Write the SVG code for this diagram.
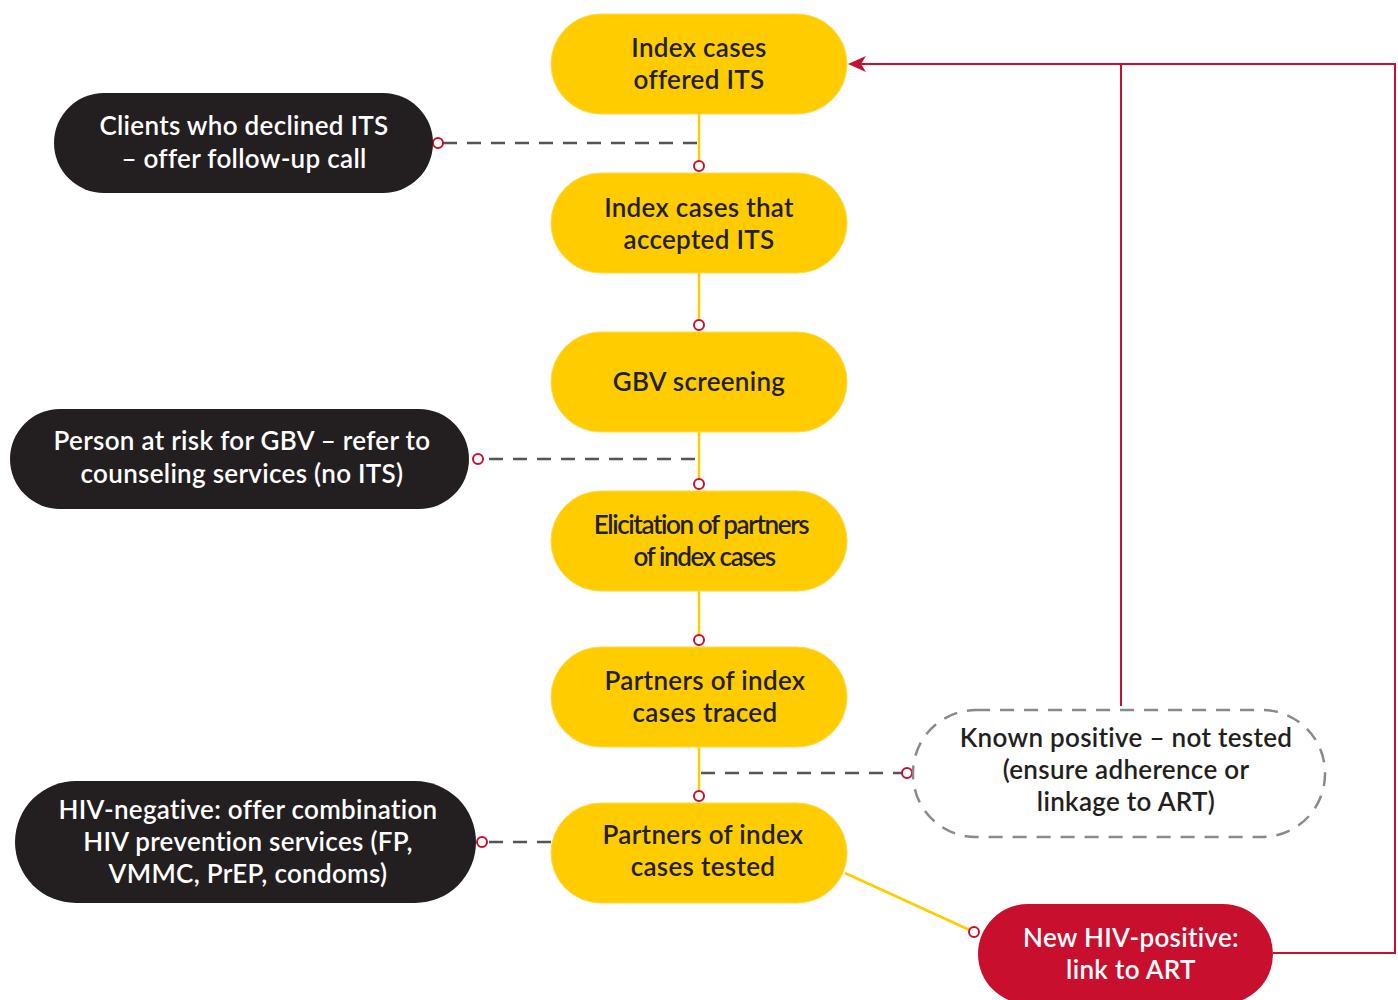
<svg xmlns="http://www.w3.org/2000/svg" width="1398" height="1000" viewBox="0 0 1398 1000">
<style>
.y{fill:#FFCC00;stroke:#FFD84D;stroke-width:1}
.k{fill:#231F20}
.r{fill:#C8102E}
.d{fill:#fff;stroke:#8a8a8a;stroke-width:2.5;stroke-dasharray:14 10}
text{font-family:Lato,"Open Sans","Liberation Sans",sans-serif;font-size:26px;font-weight:600;text-anchor:middle;letter-spacing:0.3px}
.ty{fill:#231F20}
.tw{fill:#fff}
.tight{letter-spacing:-1.4px}
.yl{stroke:#FFCC00;stroke-width:2.5;fill:none}
.dl{stroke:#555;stroke-width:2.5;stroke-dasharray:14 10;fill:none}
.rl{stroke:#C8102E;stroke-width:2;fill:none}
.c{fill:#fff;stroke:#C8102E;stroke-width:2}
</style>
<g id="connectors">
<line class="yl" x1="699" y1="114" x2="699" y2="166"/>
<line class="yl" x1="699" y1="273" x2="699" y2="325"/>
<line class="yl" x1="699" y1="432" x2="699" y2="484"/>
<line class="yl" x1="699" y1="591" x2="699" y2="640"/>
<line class="yl" x1="699" y1="747" x2="699" y2="796"/>
<line class="yl" x1="845" y1="873" x2="974" y2="932"/>
<line class="dl" x1="697" y1="143" x2="443" y2="143"/>
<line class="dl" x1="695" y1="459" x2="483" y2="459"/>
<line class="dl" x1="701" y1="773" x2="902" y2="773"/>
<line class="dl" x1="551" y1="842" x2="487" y2="842"/>
<path class="rl" d="M1273,953 H1395 V64 H858"/>
<path d="M848,64 L866,56 L861,64 L866,72 Z" fill="#C8102E"/>
<line class="rl" x1="1121" y1="64" x2="1121" y2="706"/>
<circle class="c" cx="699" cy="166" r="5"/>
<circle class="c" cx="699" cy="325" r="5"/>
<circle class="c" cx="699" cy="484" r="5"/>
<circle class="c" cx="699" cy="640" r="5"/>
<circle class="c" cx="699" cy="796" r="5"/>
<circle class="c" cx="438" cy="143" r="5"/>
<circle class="c" cx="478" cy="459" r="5"/>
<circle class="c" cx="907" cy="773" r="5"/>
<circle class="c" cx="482" cy="842" r="5"/>
<circle class="c" cx="974" cy="932" r="5"/>
</g>
<g id="n1"><rect class="y" x="551" y="14" width="296" height="100" rx="50"/>
<text class="ty" x="699" y="57">Index cases</text><text class="ty" x="699" y="89">offered ITS</text></g>
<g id="n2"><rect class="y" x="551" y="173" width="296" height="100" rx="50"/>
<text class="ty" x="699" y="217">Index cases that</text><text class="ty" x="699" y="249">accepted ITS</text></g>
<g id="n3"><rect class="y" x="551" y="332" width="296" height="100" rx="50"/>
<text class="ty" x="699" y="391">GBV screening</text></g>
<g id="n4"><rect class="y" x="551" y="491" width="296" height="100" rx="50"/>
<text class="ty tight" x="701" y="534">Elicitation of partners</text><text class="ty tight" x="704" y="566">of index cases</text></g>
<g id="n5"><rect class="y" x="551" y="647" width="296" height="100" rx="50"/>
<text class="ty" x="705" y="690">Partners of index</text><text class="ty" x="705" y="722">cases traced</text></g>
<g id="n6"><rect class="y" x="551" y="803" width="296" height="100" rx="50"/>
<text class="ty" x="703" y="844">Partners of index</text><text class="ty" x="703" y="876">cases tested</text></g>
<g id="b1"><rect class="k" x="54" y="93" width="379" height="100" rx="50"/>
<text class="tw" x="244" y="135">Clients who declined ITS</text><text class="tw" x="244" y="168">– offer follow-up call</text></g>
<g id="b2"><rect class="k" x="10" y="409" width="459" height="100" rx="50"/>
<text class="tw" x="242" y="450">Person at risk for GBV – refer to</text><text class="tw" x="242" y="483">counseling services (no ITS)</text></g>
<g id="b3"><rect class="k" x="15" y="781" width="461" height="122" rx="61"/>
<text class="tw" x="248" y="819">HIV-negative: offer combination</text><text class="tw" x="248" y="851">HIV prevention services (FP,</text><text class="tw" x="248" y="883">VMMC, PrEP, condoms)</text></g>
<g id="kp"><rect class="d" x="913" y="710" width="412" height="127" rx="63"/>
<text class="ty" x="1126" y="747">Known positive – not tested</text><text class="ty" x="1126" y="779">(ensure adherence or</text><text class="ty" x="1126" y="811">linkage to ART)</text></g>
<g id="np"><rect class="r" x="978" y="904" width="295" height="100" rx="50"/>
<text class="tw" x="1131" y="947">New HIV-positive:</text><text class="tw" x="1131" y="979">link to ART</text></g>
</svg>
